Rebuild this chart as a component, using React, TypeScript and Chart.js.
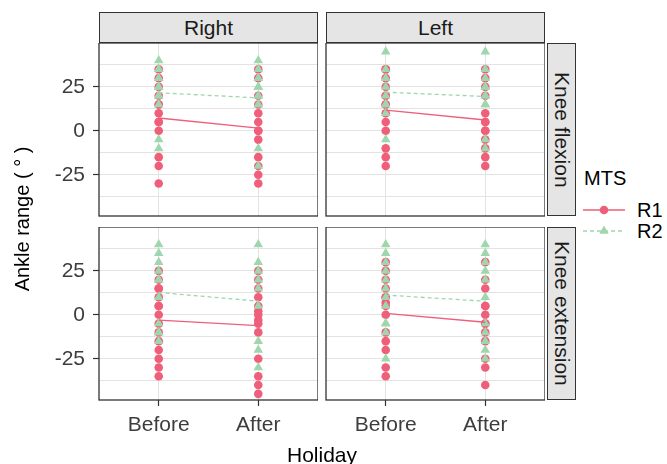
import React, { useEffect, useRef } from "react";
import { Chart, registerables } from "chart.js";
Chart.register(...registerables);

// ---------- data ----------
const holidays = ["Before", "After"];
const sides = ["Right", "Left"];
const movements = ["Knee flexion", "Knee extension"];
const seriesNames = ["R1", "R2"];
const yGridTicks = [-37.5, -25, -12.5, 0, 12.5, 25, 37.5];
const yTickLabels = [-25, 0, 25];

// Knee flexion, Right
const flexRightR1Before = [35, 30, 25, 20, 15, 15, 10, 5, 5, 0, -15, -20, -30];
const flexRightR1After = [35, 30, 20, 15, 10, 5, 0, 0, -5, -15, -20, -25, -30];
const flexRightR2Before = [40, 35, 35, 30, 30, 25, 25, 20, 20, 15, -5, -10];
const flexRightR2After = [40, 35, 30, 30, 25, 25, 20, 20, 15, 15, -10, -20];
// Knee flexion, Left
const flexLeftR1Before = [35, 35, 30, 25, 20, 20, 15, 15, 10, 5, 0, -10, -15, -20];
const flexLeftR1After = [35, 30, 25, 20, 10, 5, 5, 0, 0, -5, -10, -15, -20];
const flexLeftR2Before = [45, 35, 30, 30, 25, 20, 15, 15, 10, -5];
const flexLeftR2After = [45, 35, 30, 25, 25, 20, 20, 15, 15, -5, -10];
// Knee extension, Right
const extRightR1Before = [25, 20, 15, 15, 10, 5, 5, 0, -5, -10, -15, -20, -25, -30, -35];
const extRightR1After = [25, 20, 15, 10, 5, 2, 0, -3, -5, -10, -25, -35, -40, -45];
const extRightR2Before = [40, 35, 30, 25, 20, 20, 10, -5, -10, -10, -15];
const extRightR2After = [40, 30, 25, 20, 15, 5, -15, -20, -30];
// Knee extension, Left
const extLeftR1Before = [30, 25, 20, 15, 10, 10, 7, 5, 0, -10, -15, -20, -30, -35];
const extLeftR1After = [30, 20, 15, 5, 5, 0, -5, -5, -10, -15, -25, -30, -40];
const extLeftR2Before = [40, 35, 30, 25, 20, 15, 10, 5, -5, -5, -10, -25];
const extLeftR2After = [40, 35, 30, 25, 20, 10, -5, -10, -15, -20, -25];

// ---------- style ----------
const FONT = "'Liberation Sans', Arial, Helvetica, sans-serif";
const R1_COLOR = "#EF5F79";
const R2_COLOR = "#A0D6AE";
const GRID = "#E3E3E3";
const DARK = "#333333";
const TICK_TEXT = "#3D3D3D";
const STRIP_BG = "#E5E5E5";

const PW = 219;
const PH = 173;
const AXW = 70;
const AXH = 50;

const mean = (a: number[]) => a.reduce((s, v) => s + v, 0) / a.length;

const borderPlugin = {
  id: "panelBorder",
  afterDraw(chart: any) {
    const { ctx, chartArea } = chart;
    const { left, top, right, bottom } = chartArea;
    ctx.save();
    ctx.strokeStyle = DARK;
    ctx.lineWidth = 1.3;
    ctx.strokeRect(left, top, right - left, bottom - top);
    ctx.restore();
  },
};

const zeroPadding = (s: any) => {
  s.paddingTop = 0;
  s.paddingBottom = 0;
  s.paddingLeft = 0;
  s.paddingRight = 0;
};

type PanelProps = {
  r1b: number[];
  r1a: number[];
  r2b: number[];
  r2a: number[];
  showX: boolean;
  showY: boolean;
  left: number;
  top: number;
};

function Panel({ r1b, r1a, r2b, r2a, showX, showY, left, top }: PanelProps) {
  const ref = useRef<HTMLCanvasElement | null>(null);
  useEffect(() => {
    const pts = (vals: number[], x: number) => vals.map((v) => ({ x, y: v }));
    const chart = new Chart(ref.current as HTMLCanvasElement, {
      type: "scatter",
      data: {
        datasets: [
          {
            type: "line",
            label: seriesNames[0] + " mean",
            data: [
              { x: 1, y: mean(r1b) },
              { x: 2, y: mean(r1a) },
            ],
            borderColor: R1_COLOR,
            borderWidth: 1.3,
            pointRadius: 0,
            fill: false,
            order: -2,
          } as any,
          {
            type: "line",
            label: seriesNames[1] + " mean",
            data: [
              { x: 1, y: mean(r2b) },
              { x: 2, y: mean(r2a) },
            ],
            borderColor: R2_COLOR,
            borderWidth: 1.3,
            borderDash: [4, 3],
            pointRadius: 0,
            fill: false,
            order: -1,
          } as any,
          {
            label: seriesNames[1],
            data: [...pts(r2b, 1), ...pts(r2a, 2)],
            backgroundColor: R2_COLOR,
            borderWidth: 0,
            pointStyle: "triangle",
            pointRadius: 5.5,
            order: 0,
          },
          {
            label: seriesNames[0],
            data: [...pts(r1b, 1), ...pts(r1a, 2)],
            backgroundColor: R1_COLOR,
            borderWidth: 0,
            pointStyle: "circle",
            pointRadius: 4.3,
            order: 1,
          },
        ],
      },
      options: {
        animation: false,
        responsive: false,
        maintainAspectRatio: false,
        layout: { padding: 0, autoPadding: false },
        plugins: { legend: { display: false }, tooltip: { enabled: false } },
        scales: {
          x: {
            type: "linear",
            min: 0.4,
            max: 2.6,
            afterBuildTicks: (s: any) => {
              s.ticks = holidays.map((_, i) => ({ value: i + 1 }));
            },
            afterFit: (s: any) => {
              s.height = AXH;
              zeroPadding(s);
            },
            ticks: {
              display: showX,
              autoSkip: false,
              maxRotation: 0,
              padding: 7,
              color: TICK_TEXT,
              font: { family: FONT, size: 21 },
              callback: (v: any) => holidays[Math.round(Number(v)) - 1] ?? "",
            },
            grid: {
              color: GRID,
              lineWidth: 1,
              drawTicks: showX,
              tickLength: 6,
              tickColor: DARK,
              tickWidth: 1.2,
            },
            border: { display: false },
          },
          y: {
            type: "linear",
            min: -48.5,
            max: 50,
            afterBuildTicks: (s: any) => {
              s.ticks = yGridTicks.map((v) => ({ value: v }));
            },
            afterFit: (s: any) => {
              s.width = AXW;
              zeroPadding(s);
            },
            ticks: {
              display: showY,
              autoSkip: false,
              padding: 8,
              color: TICK_TEXT,
              font: { family: FONT, size: 21 },
              callback: (v: any) => (yTickLabels.includes(Number(v)) ? String(v) : ""),
            },
            grid: {
              color: GRID,
              lineWidth: 1,
              drawTicks: showY,
              tickLength: 6,
              tickWidth: 1.2,
              tickColor: (ctx: any) =>
                yTickLabels.includes(ctx.tick?.value) ? DARK : "rgba(0,0,0,0)",
            },
            border: { display: false },
          },
        },
      },
      plugins: [borderPlugin],
    } as any);
    return () => chart.destroy();
  }, []);
  return (
    <canvas
      ref={ref}
      width={PW + AXW}
      height={PH + AXH}
      style={{
        position: "absolute",
        left: left - AXW,
        top,
        width: PW + AXW,
        height: PH + AXH,
      }}
    />
  );
}

function TopStrip({ label, left }: { label: string; left: number }) {
  return (
    <div
      style={{
        position: "absolute",
        left,
        top: 12,
        width: PW,
        height: 31,
        boxSizing: "border-box",
        background: STRIP_BG,
        border: `1.3px solid ${DARK}`,
        display: "flex",
        alignItems: "center",
        justifyContent: "center",
        fontFamily: FONT,
        fontSize: 21,
        color: "#1A1A1A",
      }}
    >
      {label}
    </div>
  );
}

function SideStrip({ label, top }: { label: string; top: number }) {
  return (
    <div
      style={{
        position: "absolute",
        left: 547,
        top,
        width: 29,
        height: PH,
        boxSizing: "border-box",
        background: STRIP_BG,
        border: `1.3px solid ${DARK}`,
        display: "flex",
        alignItems: "center",
        justifyContent: "center",
        fontFamily: FONT,
        fontSize: 21,
        color: "#1A1A1A",
      }}
    >
      <span style={{ writingMode: "vertical-rl", whiteSpace: "nowrap" }}>{label}</span>
    </div>
  );
}

export default function App() {
  const colX = [99, 326];
  const rowY = [43, 227];
  return (
    <div
      style={{
        position: "absolute",
        left: 0,
        top: 0,
        width: 667,
        height: 464,
        overflow: "hidden",
        background: "#ffffff",
      }}
    >
      <Panel r1b={flexRightR1Before} r1a={flexRightR1After} r2b={flexRightR2Before} r2a={flexRightR2After} showX={false} showY={true} left={colX[0]} top={rowY[0]} />
      <Panel r1b={flexLeftR1Before} r1a={flexLeftR1After} r2b={flexLeftR2Before} r2a={flexLeftR2After} showX={false} showY={false} left={colX[1]} top={rowY[0]} />
      <Panel r1b={extRightR1Before} r1a={extRightR1After} r2b={extRightR2Before} r2a={extRightR2After} showX={true} showY={true} left={colX[0]} top={rowY[1]} />
      <Panel r1b={extLeftR1Before} r1a={extLeftR1After} r2b={extLeftR2Before} r2a={extLeftR2After} showX={true} showY={false} left={colX[1]} top={rowY[1]} />

      <TopStrip label={sides[0]} left={colX[0]} />
      <TopStrip label={sides[1]} left={colX[1]} />
      <SideStrip label={movements[0]} top={rowY[0]} />
      <SideStrip label={movements[1]} top={rowY[1]} />

      <div
        style={{
          position: "absolute",
          left: 22 - 100,
          top: 219 - 12,
          width: 200,
          height: 24,
          lineHeight: "24px",
          textAlign: "center",
          transform: "rotate(-90deg)",
          fontFamily: FONT,
          fontSize: 20,
          color: "#000",
          whiteSpace: "pre",
        }}
      >
        {"Ankle range ( ° )"}
      </div>
      <div
        style={{
          position: "absolute",
          left: 322 - 100,
          top: 455 - 12,
          width: 200,
          height: 24,
          lineHeight: "24px",
          textAlign: "center",
          fontFamily: FONT,
          fontSize: 21,
          color: "#000",
        }}
      >
        Holiday
      </div>

      <div
        style={{
          position: "absolute",
          left: 584,
          top: 178 - 12,
          height: 24,
          lineHeight: "24px",
          fontFamily: FONT,
          fontSize: 20,
          color: "#000",
        }}
      >
        MTS
      </div>
      <svg
        style={{ position: "absolute", left: 580, top: 198 }}
        width={50}
        height={46}
      >
        <line x1={3} y1={12} x2={45} y2={12} stroke={R1_COLOR} strokeWidth={1.3} />
        <circle cx={24} cy={12} r={4.3} fill={R1_COLOR} />
        <line x1={3} y1={33} x2={45} y2={33} stroke={R2_COLOR} strokeWidth={1.3} strokeDasharray="4 3" />
        <polygon points="24,27.5 28.8,35.75 19.2,35.75" fill={R2_COLOR} />
      </svg>
      <div
        style={{
          position: "absolute",
          left: 637,
          top: 210 - 12,
          height: 24,
          lineHeight: "24px",
          fontFamily: FONT,
          fontSize: 20,
          color: "#000",
        }}
      >
        {seriesNames[0]}
      </div>
      <div
        style={{
          position: "absolute",
          left: 637,
          top: 231 - 12,
          height: 24,
          lineHeight: "24px",
          fontFamily: FONT,
          fontSize: 20,
          color: "#000",
        }}
      >
        {seriesNames[1]}
      </div>
    </div>
  );
}
